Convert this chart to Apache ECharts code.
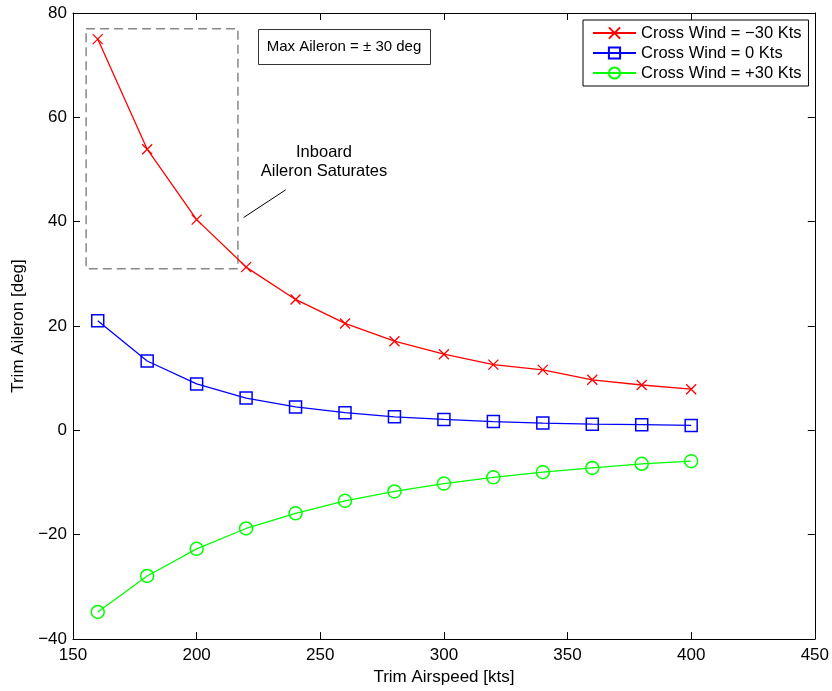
<!DOCTYPE html>
<html>
<head>
<meta charset="utf-8">
<script src="https://cdn.jsdelivr.net/npm/echarts@6/dist/echarts.min.js"></script>
<style>html,body{margin:0;padding:0;background:#fff}#c{width:832px;height:691px}</style>
</head>
<body>
<div id="c"></div>
<script>
const airspeed = [160, 180, 200, 220, 240, 260, 280, 300, 320, 340, 360, 380, 400];
const windMinus30 = [75.0, 53.9, 40.4, 31.3, 25.1, 20.5, 17.1, 14.6, 12.6, 11.6, 9.7, 8.7, 7.9];
const windZero = [21.0, 13.3, 8.9, 6.2, 4.5, 3.4, 2.6, 2.1, 1.7, 1.4, 1.2, 1.1, 0.95];
const windPlus30 = [-34.8, -27.9, -22.7, -18.8, -15.9, -13.5, -11.7, -10.2, -9.0, -8.0, -7.2, -6.4, -5.9];
const seriesNames = ['Cross Wind = \u221230 Kts', 'Cross Wind = 0 Kts', 'Cross Wind = +30 Kts'];
const xTicks = [150, 200, 250, 300, 350, 400, 450];
const yTicks = [-40, -20, 0, 20, 40, 60, 80];
const saturationBox = [[155.3, 77.0], [216.7, 31.0]];
const pointerLine = [[236.0, 46.1], [219.0, 40.8]];

const FONT = 'Liberation Sans, Arial, Helvetica, sans-serif';
const pair = (ys) => airspeed.map((x, i) => [x, ys[i]]);
const minusFmt = (v) => String(v).replace('-', '\u2212');

const chart = echarts.init(document.getElementById('c'), null, {renderer: 'canvas'});

const axisCommon = {
  type: 'value',
  axisLine: {show: true, onZero: false, lineStyle: {color: '#000', width: 1}},
  axisTick: {show: true, inside: true, length: 7, lineStyle: {color: '#000'}},
  splitLine: {show: false}
};

const crossPath = 'path://M0,0L10,10M0,10L10,0';

option = {
  animation: false,
  backgroundColor: '#fff',
  grid: {left: 73, top: 13, right: 17, bottom: 50, containLabel: false},
  xAxis: [
    Object.assign({}, axisCommon, {
      min: xTicks[0], max: xTicks[xTicks.length - 1], interval: 50, position: 'bottom',
      name: 'Trim Airspeed [kts]', nameLocation: 'middle', nameGap: 29,
      nameTextStyle: {fontFamily: FONT, fontSize: 17, color: '#000'},
      axisLabel: {fontFamily: FONT, fontSize: 17, color: '#000', margin: 8}
    }),
    Object.assign({}, axisCommon, {
      min: xTicks[0], max: xTicks[xTicks.length - 1], interval: 50, position: 'top',
      axisLabel: {show: false}
    })
  ],
  yAxis: [
    Object.assign({}, axisCommon, {
      min: yTicks[0], max: yTicks[yTicks.length - 1], interval: 20, position: 'left',
      name: 'Trim Aileron [deg]', nameLocation: 'middle', nameGap: 38, nameRotate: 90,
      nameTextStyle: {fontFamily: FONT, fontSize: 17, color: '#000'},
      axisLabel: {fontFamily: FONT, fontSize: 17, color: '#000', margin: 6, formatter: minusFmt}
    }),
    Object.assign({}, axisCommon, {
      min: yTicks[0], max: yTicks[yTicks.length - 1], interval: 20, position: 'right',
      axisLabel: {show: false}
    })
  ],
  legend: {
    orient: 'vertical', left: 583, top: 20,
    padding: [3, 7, 3, 9], itemGap: 0, itemWidth: 43, itemHeight: 14,
    borderColor: '#000', borderWidth: 1, backgroundColor: '#fff',
    textStyle: {fontFamily: FONT, fontSize: 16.5, color: '#000', lineHeight: 20},
    data: seriesNames
  },
  series: [
    {
      name: seriesNames[0], type: 'line', data: pair(windMinus30),
      symbol: crossPath, symbolSize: 10,
      lineStyle: {color: '#ff0000', width: 1.3},
      itemStyle: {color: '#ff0000', borderColor: '#ff0000', borderWidth: 1.3},
      z: 3,
      markArea: {
        silent: true,
        itemStyle: {color: 'rgba(0,0,0,0)', borderColor: '#888', borderWidth: 1.5, borderType: [9, 5]},
        data: [[{coord: saturationBox[0]}, {coord: saturationBox[1]}]]
      },
      markLine: {
        silent: true, symbol: ['none', 'none'], label: {show: false},
        lineStyle: {color: '#000', width: 1, type: 'solid'},
        data: [[{coord: pointerLine[0]}, {coord: pointerLine[1]}]]
      }
    },
    {
      name: seriesNames[1], type: 'line', data: pair(windZero),
      symbol: 'rect', symbolSize: 12,
      lineStyle: {color: '#0000ff', width: 1.3},
      itemStyle: {color: 'rgba(0,0,0,0)', borderColor: '#0000ff', borderWidth: 1.5},
      z: 3
    },
    {
      name: seriesNames[2], type: 'line', data: pair(windPlus30),
      symbol: 'circle', symbolSize: 13,
      lineStyle: {color: '#00ff00', width: 1.3},
      itemStyle: {color: 'rgba(0,0,0,0)', borderColor: '#00ff00', borderWidth: 1.5},
      z: 3
    }
  ],
  graphic: [
    {
      type: 'rect', left: 258, top: 29, z: 10,
      shape: {width: 172, height: 35},
      style: {fill: '#fff', stroke: '#333', lineWidth: 1}
    },
    {
      type: 'text', x: 344, y: 47, z: 11,
      style: {text: 'Max Aileron = \u00b1 30 deg', font: '15px ' + FONT, fill: '#000', align: 'center', verticalAlign: 'middle'}
    },
    {
      type: 'text', x: 324, y: 162, z: 11,
      style: {text: 'Inboard\nAileron Saturates', font: '16.5px ' + FONT, fill: '#000', align: 'center', verticalAlign: 'middle', lineHeight: 19}
    }
  ]
};
chart.setOption(option);
</script>
</body>
</html>
